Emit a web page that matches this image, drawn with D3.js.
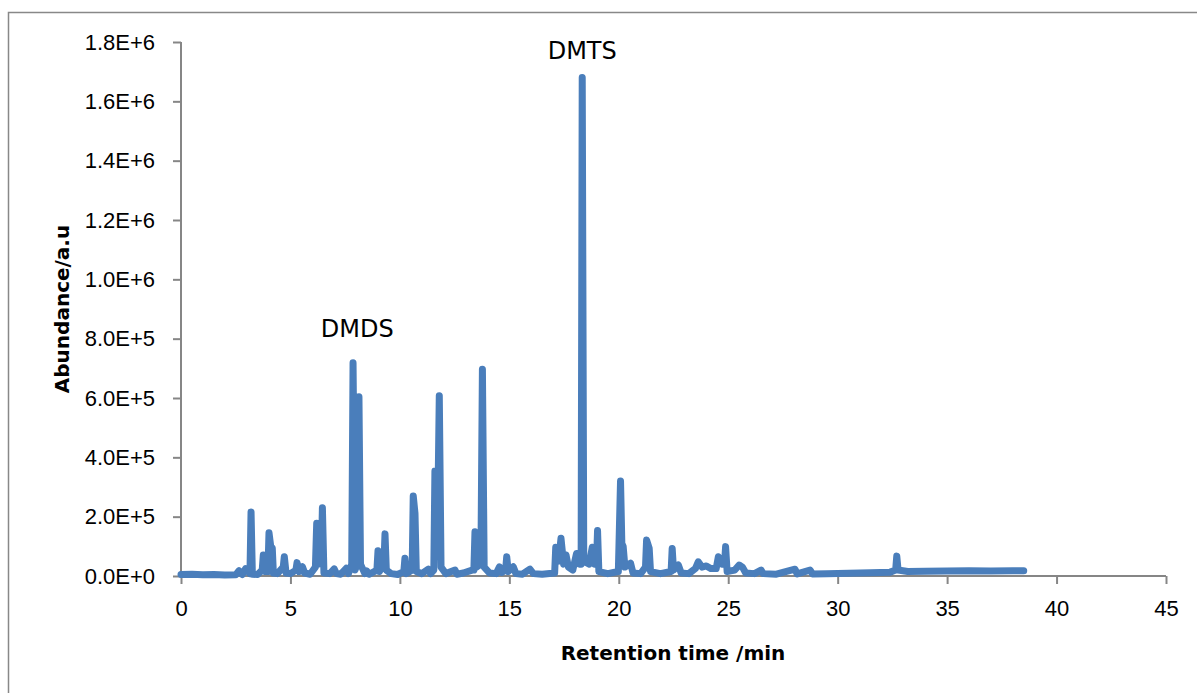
<!DOCTYPE html>
<html>
<head>
<meta charset="utf-8">
<script src="https://cdn.jsdelivr.net/npm/d3@7"></script>
<style>
  body { margin: 0; background: #fff; }
  svg { display: block; font-family: "DejaVu Sans", sans-serif; }
</style>
</head>
<body>
<svg id="chart" width="1197" height="693"></svg>
<script>
// chromatogram trace (minutes, abundance)
const retentionTime = [
  0, 0.5, 1.0, 1.5, 2.0, 2.5, 2.65, 2.8, 2.95, 3.15, 3.2, 3.26, 3.5, 3.71, 3.76, 3.85, 3.97, 4.02, 4.1, 4.17, 4.22,
  4.4, 4.67, 4.72, 4.8, 5.0, 5.25, 5.3, 5.4, 5.55, 5.65, 5.9, 6.14, 6.2, 6.27, 6.41, 6.46, 6.53, 6.8, 7.0, 7.1,
  7.3, 7.55, 7.65, 7.8, 7.86, 7.95, 8.05, 8.13, 8.2, 8.4, 8.48, 8.6, 8.95, 9.0, 9.06, 9.27, 9.32, 9.38, 9.6, 9.9,
  10.18, 10.23, 10.3, 10.56, 10.61, 10.69, 10.75, 11.0, 11.3, 11.4, 11.55, 11.6, 11.66, 11.72, 11.8, 11.88, 12.1, 12.52, 12.6, 12.9, 13.3,
  13.38, 13.43, 13.5, 13.7, 13.77, 13.85, 14.1, 14.4, 14.55, 14.65, 14.83, 14.88, 14.95, 15.18, 15.3, 15.6, 15.94, 16.1, 16.5, 17.07, 17.12,
  17.25, 17.36, 17.48, 17.59, 17.7, 17.9, 18.07, 18.2, 18.28, 18.33, 18.4, 18.65, 18.79, 18.9, 18.98, 19.03, 19.09, 19.5, 19.98, 20.08, 20.14, 20.2, 20.28,
  20.54, 20.65, 21.0, 21.22, 21.27, 21.39, 21.45, 21.9, 22.39, 22.44, 22.5, 22.72, 22.85, 23.2, 23.5, 23.63, 23.8, 24.0, 24.2, 24.45,
  24.55, 24.7, 24.83, 24.88, 24.95, 25.3, 25.5, 25.65, 25.8, 26.2, 26.5, 26.6, 27.2, 28.05, 28.15, 28.74, 28.85, 29.5, 30.5, 31.5, 32.4,
  32.65, 32.7, 32.76, 33.2, 34.0, 35.0, 36.0, 37.0, 38.0, 38.5
];
const abundance = [
  5000, 6000, 4000, 5000, 3000, 4000, 18000, 5000, 25000, 8000, 216000, 6000, 5000, 20000, 71000, 15000, 15000, 146000, 100000, 94000, 10000,
  8000, 30000, 65000, 10000, 8000, 20000, 45000, 15000, 31000, 10000, 6000, 30000, 178000, 40000, 60000, 230000, 10000, 8000, 24000, 8000,
  6000, 26000, 8000, 40000, 719000, 20000, 40000, 604000, 40000, 8000, 17000, 6000, 20000, 85000, 15000, 40000, 142000, 20000, 8000, 5000,
  15000, 60000, 8000, 20000, 270000, 211000, 15000, 8000, 23000, 8000, 20000, 354000, 80000, 150000, 608000, 30000, 8000, 20000, 6000, 10000, 20000,
  20000, 149000, 30000, 40000, 697000, 30000, 10000, 8000, 31000, 12000, 20000, 65000, 15000, 31000, 8000, 6000, 23000, 8000, 6000, 10000, 97000,
  50000, 127000, 40000, 71000, 30000, 20000, 76000, 40000, 40000, 1680000, 50000, 40000, 97000, 40000, 40000, 153000, 15000, 8000, 15000, 320000, 110000, 100000, 30000,
  43000, 10000, 8000, 30000, 121000, 93000, 15000, 8000, 15000, 93000, 20000, 37000, 10000, 8000, 25000, 48000, 30000, 34000, 25000, 25000,
  65000, 40000, 40000, 99000, 15000, 20000, 37000, 30000, 10000, 8000, 20000, 8000, 6000, 23000, 7000, 20000, 7000, 8000, 9000, 11000, 13000,
  20000, 67000, 20000, 15000, 16000, 17000, 18000, 17000, 18000, 18000
];

const xTicks = [0, 5, 10, 15, 20, 25, 30, 35, 40, 45];
const yTicks = [0, 2e5, 4e5, 6e5, 8e5, 1e6, 1.2e6, 1.4e6, 1.6e6, 1.8e6];
const yTickLabels = ["0.0E+0", "2.0E+5", "4.0E+5", "6.0E+5", "8.0E+5", "1.0E+6", "1.2E+6", "1.4E+6", "1.6E+6", "1.8E+6"];

const peakNames = ["DMDS", "DMTS"];
const peakTimes = [8.05, 18.33];
const peakLabelValues = [806000, 1743000];

const svg = d3.select("#chart");

// outer frame (right/bottom edges fall outside the picture)
svg.append("rect")
  .attr("x", 8.5).attr("y", 12.5)
  .attr("width", 1200).attr("height", 700)
  .attr("fill", "none")
  .attr("stroke", "#888")
  .attr("stroke-width", 1.5);

const x = d3.scaleLinear().domain([0, 45]).range([181, 1166]);
const y = d3.scaleLinear().domain([0, 1.8e6]).range([576, 42]);

const axisColor = "#868686";

const xAxis = d3.axisBottom(x).tickValues(xTicks).tickSize(8).tickPadding(16);
const yAxis = d3.axisLeft(y).tickValues(yTicks).tickSize(8).tickPadding(18)
  .tickFormat((d, i) => yTickLabels[i]);

const gx = svg.append("g").attr("transform", "translate(0,576)").call(xAxis);
const gy = svg.append("g").attr("transform", "translate(181,0)").call(yAxis);

[gx, gy].forEach(g => {
  g.select(".domain").attr("stroke", axisColor).attr("stroke-width", 2);
  g.selectAll(".tick line").attr("stroke", axisColor).attr("stroke-width", 2);
  g.selectAll(".tick text").attr("fill", "#000").style("font-size", "22px");
});
gx.select(".domain").attr("d", "M181,0H1166");
gy.select(".domain").attr("d", "M0,42V576");

// the trace
const line = d3.line()
  .x((d, i) => x(retentionTime[i]))
  .y(d => y(d));

svg.append("path")
  .datum(abundance)
  .attr("d", line)
  .attr("fill", "none")
  .attr("stroke", "#4a7ebb")
  .attr("stroke-width", 7)
  .attr("stroke-linejoin", "round")
  .attr("stroke-linecap", "round");

// peak labels
svg.selectAll(".peak-label")
  .data(peakNames)
  .join("text")
  .attr("class", "peak-label")
  .attr("x", (d, i) => x(peakTimes[i]))
  .attr("y", (d, i) => y(peakLabelValues[i]))
  .attr("text-anchor", "middle")
  .style("font-size", "24px")
  .text(d => d);

// axis titles
svg.append("text")
  .attr("x", 673).attr("y", 660)
  .attr("text-anchor", "middle")
  .style("font-size", "20px")
  .style("font-weight", "bold")
  .text("Retention time /min");

svg.append("text")
  .attr("transform", "translate(69,309) rotate(-90)")
  .attr("text-anchor", "middle")
  .style("font-size", "20px")
  .style("font-weight", "bold")
  .text("Abundance/a.u");
</script>
</body>
</html>
